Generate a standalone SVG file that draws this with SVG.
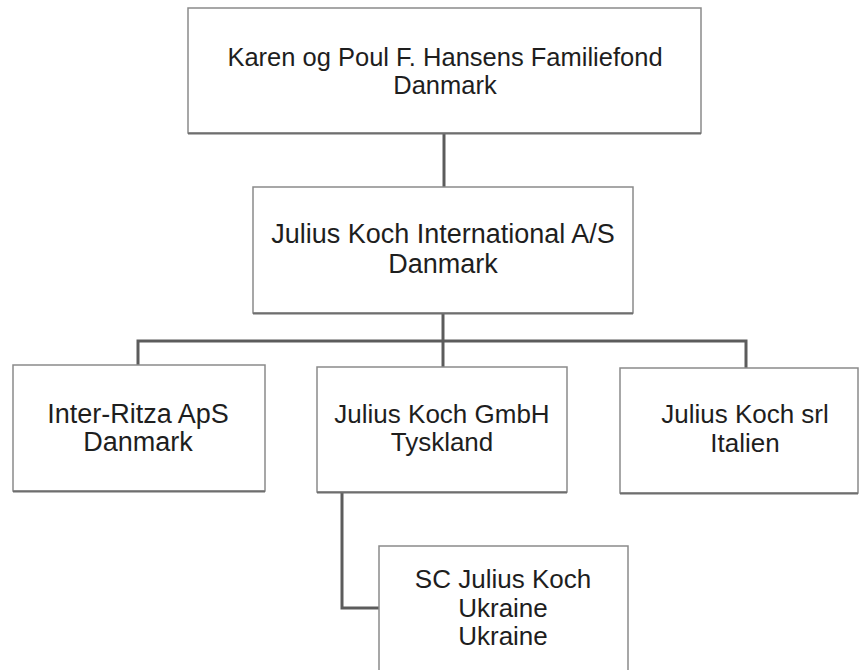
<svg xmlns="http://www.w3.org/2000/svg" width="860" height="670" viewBox="0 0 860 670">
<style>
.box{fill:#ffffff;stroke:#8a8a8a;stroke-width:1.5}
.shadow{fill:none;stroke:#6e6e6e;stroke-width:2}
.lbl{font-family:"Liberation Sans",Arial,sans-serif;font-size:26px;fill:#1e1e1e;text-anchor:middle}
.conn{fill:none;stroke:#5c5c5c;stroke-width:3}
</style>
<rect width="860" height="670" fill="#ffffff"/>
<g id="connectors">
<path class="conn" d="M444 133 V187"/>
<path class="conn" d="M443 313 V341"/>
<path class="conn" d="M138 365 V341 H746 V368"/>
<path class="conn" d="M443 341 V367"/>
<path class="conn" d="M342 492 V608 H379"/>
</g>
<g id="n1">
<rect class="box" x="188" y="8" width="513" height="125"/>
<path class="shadow" d="M188 133.5 H701"/>
<text class="lbl" x="445" y="66" style="font-size:25.5px">Karen og Poul F. Hansens Familiefond</text>
<text class="lbl" x="445" y="94" style="font-size:25.5px">Danmark</text>
</g>
<g id="n2">
<rect class="box" x="253" y="187" width="380" height="126"/>
<path class="shadow" d="M253 313.5 H633"/>
<text class="lbl" x="443" y="243" style="font-size:27px">Julius Koch International A/S</text>
<text class="lbl" x="443" y="273" style="font-size:27px">Danmark</text>
</g>
<g id="n3">
<rect class="box" x="13" y="365" width="252" height="126"/>
<path class="shadow" d="M13 491.5 H265"/>
<text class="lbl" x="138" y="423" style="font-size:27px">Inter-Ritza ApS</text>
<text class="lbl" x="138" y="451" style="font-size:27px">Danmark</text>
</g>
<g id="n4">
<rect class="box" x="317" y="367" width="250" height="125"/>
<path class="shadow" d="M317 492.5 H567"/>
<text class="lbl" x="442" y="423">Julius Koch GmbH</text>
<text class="lbl" x="442" y="451">Tyskland</text>
</g>
<g id="n5">
<rect class="box" x="620" y="368" width="238" height="125"/>
<path class="shadow" d="M620 493.5 H858"/>
<text class="lbl" x="745" y="423">Julius Koch srl</text>
<text class="lbl" x="745" y="452">Italien</text>
</g>
<g id="n6">
<rect class="box" x="379" y="546" width="249" height="134"/>
<text class="lbl" x="503" y="588">SC Julius Koch</text>
<text class="lbl" x="503" y="617">Ukraine</text>
<text class="lbl" x="503" y="645">Ukraine</text>
</g>
</svg>
